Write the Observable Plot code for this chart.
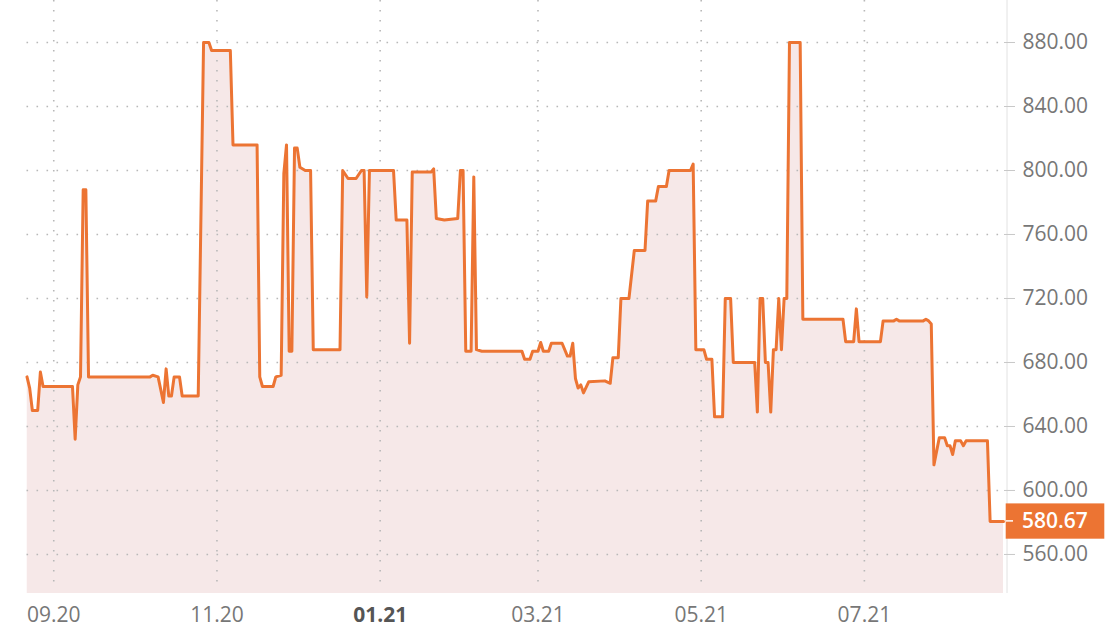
<!DOCTYPE html>
<html>
<head>
<meta charset="utf-8">
<script src="https://cdn.jsdelivr.net/npm/d3@7"></script>
<script src="https://cdn.jsdelivr.net/npm/@observablehq/plot@0.6"></script>
<style>
  html, body { margin: 0; padding: 0; background: #fff; }
  #chart svg { display: block; }
</style>
</head>
<body>
<div id="chart"></div>
<script>
// ---- data ----
const dates = [
  "2020-08-22","2020-08-23","2020-08-24","2020-08-26","2020-08-27","2020-08-28","2020-09-08","2020-09-09",
  "2020-09-10","2020-09-11","2020-09-12","2020-09-13","2020-09-14","2020-10-07","2020-10-08","2020-10-10",
  "2020-10-12","2020-10-13","2020-10-14","2020-10-15","2020-10-16","2020-10-18","2020-10-19","2020-10-25",
  "2020-10-27","2020-10-29","2020-10-30","2020-11-06","2020-11-07","2020-11-16","2020-11-17","2020-11-18",
  "2020-11-22","2020-11-23","2020-11-25","2020-11-26","2020-11-27","2020-11-28","2020-11-29","2020-11-30",
  "2020-12-01","2020-12-02","2020-12-04","2020-12-06","2020-12-07","2020-12-17","2020-12-18","2020-12-20",
  "2020-12-23","2020-12-25","2020-12-26","2020-12-27","2020-12-28","2021-01-06","2021-01-07","2021-01-11",
  "2021-01-12","2021-01-13","2021-01-20","2021-01-21","2021-01-22","2021-01-25","2021-01-30","2021-01-31",
  "2021-02-01","2021-02-02","2021-02-04","2021-02-05","2021-02-06","2021-02-08","2021-02-23","2021-02-24",
  "2021-02-26","2021-02-27","2021-03-01","2021-03-02","2021-03-03","2021-03-05","2021-03-06","2021-03-10",
  "2021-03-12","2021-03-13","2021-03-14","2021-03-15","2021-03-16","2021-03-17","2021-03-18","2021-03-20",
  "2021-03-26","2021-03-28","2021-03-29","2021-03-31","2021-04-01","2021-04-04","2021-04-06","2021-04-10",
  "2021-04-11","2021-04-14","2021-04-15","2021-04-18","2021-04-19","2021-04-27","2021-04-28","2021-04-29",
  "2021-05-02","2021-05-03","2021-05-05","2021-05-06","2021-05-09","2021-05-10","2021-05-12","2021-05-13",
  "2021-05-21","2021-05-22","2021-05-23","2021-05-24","2021-05-25","2021-05-26","2021-05-27","2021-05-28",
  "2021-05-29","2021-05-30","2021-05-31","2021-06-01","2021-06-02","2021-06-03","2021-06-07","2021-06-08",
  "2021-06-23","2021-06-24","2021-06-27","2021-06-28","2021-06-29","2021-07-07","2021-07-08","2021-07-12",
  "2021-07-13","2021-07-14","2021-07-23","2021-07-24","2021-07-25","2021-07-26","2021-07-27","2021-07-29",
  "2021-07-31","2021-08-01","2021-08-02","2021-08-03","2021-08-04","2021-08-06","2021-08-07","2021-08-08",
  "2021-08-16","2021-08-17","2021-08-22"
];
const values = [
  671, 664, 650, 650, 674, 665, 665, 632,
  666, 671, 788, 788, 671, 671, 672, 671,
  655, 676, 659, 659, 671, 671, 659, 659,
  880, 880, 875, 875, 816, 816, 671, 665,
  665, 671, 672, 798, 816, 687, 687, 814,
  814, 802, 800, 800, 688, 688, 800, 795,
  795, 800, 800, 721, 800, 800, 769, 769,
  692, 799, 799, 801, 770, 769, 770, 800,
  800, 687, 687, 796, 688, 687, 687, 682,
  682, 687, 687, 692.5, 687, 687, 692, 692,
  684, 684, 692, 670, 664, 666, 661, 668,
  668.5, 667, 683, 683, 720, 720, 750, 750,
  781, 781, 790, 790, 800, 800, 804, 688,
  688, 682, 682, 646, 646, 720, 720, 680,
  680, 649, 720, 720, 680, 680, 649, 688,
  688, 720, 688, 720, 720, 880, 880, 707,
  707, 693, 693, 713.5, 693, 693, 706, 706,
  707, 706, 706, 707, 706, 704, 616, 633,
  633, 628, 628, 622.5, 631, 631, 628, 631,
  631, 580.67, 580.67
];
const yTicks = [560, 600, 640, 680, 720, 760, 800, 840, 880];
const xTickDates = ["2020-09-01", "2020-11-01", "2021-01-01", "2021-03-01", "2021-05-01", "2021-07-01"];
const xTickLabels = ["09.20", "11.20", "01.21", "03.21", "05.21", "07.21"];
const xDomain = ["2020-08-22", "2021-08-22"];
const yDomain = [535.6, 906.25];
const lastValue = 580.67;

// ---- build ----
const parse = d3.utcParse("%Y-%m-%d");
const data = dates.map((d, i) => ({date: parse(d), value: values[i]}));
const xTicks = xTickDates.map((d, i) => ({date: parse(d), label: xTickLabels[i]}));

const FONT = "'Open Sans', 'DejaVu Sans', sans-serif";
const ORANGE = "#ec7433";
const FS = 21;

const chart = Plot.plot({
  width: 1118,
  height: 644,
  marginLeft: 26.5,
  marginRight: 115,
  marginTop: 0,
  marginBottom: 51,
  style: {fontFamily: FONT, background: "#fff", overflow: "visible"},
  x: {type: "utc", domain: xDomain.map(parse), axis: null},
  y: {domain: yDomain, axis: null},
  marks: [
    Plot.areaY(data, {x: "date", y: "value", fill: "#f6e8e8", clip: true}),
    Plot.gridY(yTicks, {stroke: "#b8b8b8", strokeOpacity: 1, strokeWidth: 1.6, strokeDasharray: "1.6,8.4"}),
    Plot.gridX(xTicks.map(d => d.date), {stroke: "#b8b8b8", strokeOpacity: 1, strokeWidth: 1.6, strokeDasharray: "1.6,8.4", insetBottom: 8}),
    Plot.ruleX([parse(xDomain[1])], {stroke: "#e2e2e2", strokeWidth: 1, dx: 3.5}),
    Plot.line(data, {x: "date", y: "value", stroke: ORANGE, strokeWidth: 3, strokeLinejoin: "round", strokeLinecap: "round"}),
    Plot.axisY(yTicks, {
      anchor: "right", label: null, tickSize: 11, tickPadding: 8, tickFormat: d => d.toFixed(2),
      fontSize: FS, fill: "#777", stroke: "#c8c8c8", strokeWidth: 1
    }),
    Plot.text(xTicks.filter(d => d.date.getUTCMonth() !== 0), {
      x: "date", text: "label", frameAnchor: "bottom", dy: 28, fontSize: FS, fill: "#777"
    }),
    Plot.text(xTicks.filter(d => d.date.getUTCMonth() === 0), {
      x: "date", text: "label", frameAnchor: "bottom", dy: 28, fontSize: FS, fill: "#555", fontWeight: "bold"
    })
  ]
});

document.getElementById("chart").appendChild(chart);

// ---- last-value badge, positioned with Plot's own scales ----
const ys = chart.scale("y");
const xs = chart.scale("x");
const yPos = ys.apply(lastValue);
const xRight = xs.range[1];
const svg = d3.select(chart);
const g = svg.append("g");
g.append("rect")
  .attr("x", xRight + 2.7).attr("y", yPos - 17.5)
  .attr("width", 98.6).attr("height", 35.3)
  .attr("fill", ORANGE);
g.append("line")
  .attr("x1", xRight + 3).attr("x2", xRight + 10)
  .attr("y1", yPos).attr("y2", yPos)
  .attr("stroke", "#fff").attr("stroke-width", 1.5);
g.append("text")
  .attr("x", xRight + 19).attr("y", yPos)
  .attr("dy", "0.35em")
  .attr("text-anchor", "start")
  .attr("fill", "#fff")
  .attr("font-size", FS)
  .attr("font-weight", 600)
  .attr("font-family", FONT)
  .text(lastValue.toFixed(2));
</script>
</body>
</html>
